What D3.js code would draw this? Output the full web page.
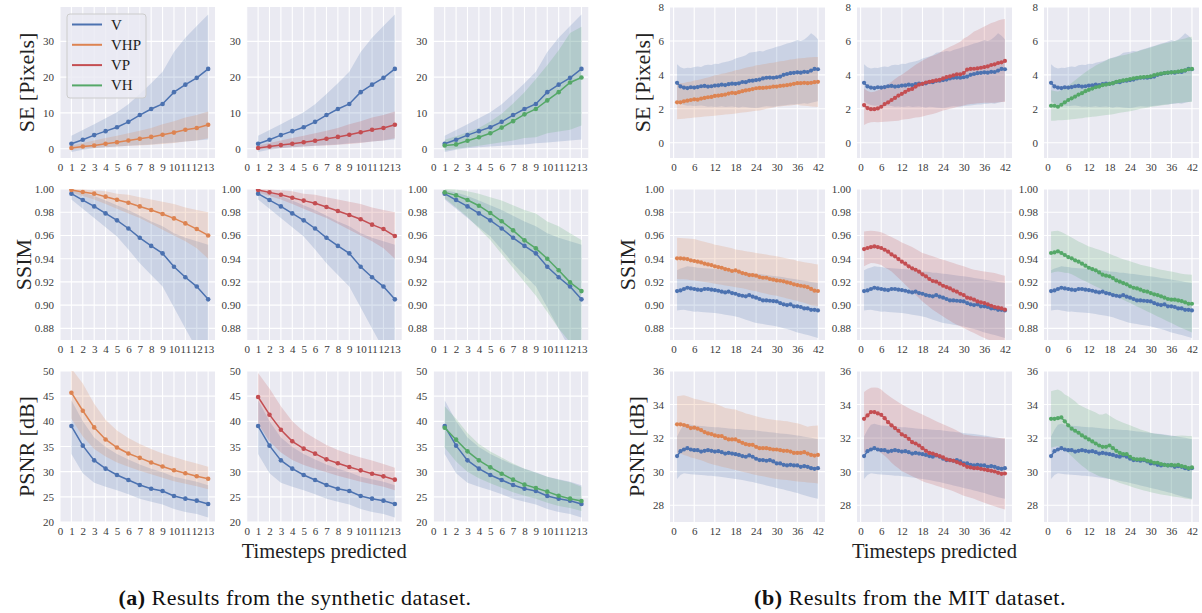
<!DOCTYPE html>
<html><head><meta charset="utf-8">
<script src="https://cdn.jsdelivr.net/npm/d3@7"></script>
<style>body{margin:0;background:#fff}svg{display:block}</style>
</head><body><svg id="c" width="1202" height="613"></svg>
<script>
// ---------------- DATA ----------------
const seriesNames = ["V", "VHP", "VP", "VH"];
const synthSteps = [1,2,3,4,5,6,7,8,9,10,11,12,13];
const mitSteps = [1,2,3,4,5,6,7,8,9,10,11,12,13,14,15,16,17,18,19,20,21,22,23,24,25,26,27,28,29,30,31,32,33,34,35,36,37,38,39,40,41,42];
const synthXTicks = [0,1,2,3,4,5,6,7,8,9,10,11,12,13];
const mitXTicks = [0,6,12,18,24,30,36,42];
const seYTicksSynth = [0,10,20,30];
const ssimYTicks = [0.88,0.90,0.92,0.94,0.96,0.98,1.00];
const psnrYTicksSynth = [20,25,30,35,40,45,50];
const seYTicksMIT = [0,2,4,6,8];
const psnrYTicksMIT = [28,30,32,34,36];
const metricLabels = ["SE [Pixels]", "SSIM", "PSNR [dB]"];

// Synthetic — SE
const sSE_V    = [1.4,2.5,3.8,4.9,6.0,7.5,9.4,11.1,12.5,15.8,17.9,19.8,22.3];
const sSE_V_hi = [3.6,5.2,6.8,8.5,10.2,12.4,15.3,18.3,21.5,27.0,31.0,34.3,37.5];
const sSE_V_lo = [-0.9,-0.3,0.1,0.4,0.6,0.8,1.0,1.2,1.5,1.7,2.0,2.3,2.6];
const sSE_VHP    = [0.2,0.6,0.9,1.4,1.8,2.3,2.8,3.3,3.9,4.5,5.3,5.8,6.7];
const sSE_VHP_hi = [0.9,1.6,2.3,3.0,3.6,4.3,5.0,5.8,6.8,7.7,8.7,9.4,10.4];
const sSE_VHP_lo = [-0.3,0.0,0.2,0.4,0.6,0.8,0.9,1.1,1.3,1.6,2.0,2.3,2.9];
const sSE_VP    = [0.2,0.6,1.0,1.4,1.8,2.2,2.8,3.3,3.9,4.6,5.3,5.8,6.7];
const sSE_VP_hi = [0.9,1.6,2.3,3.0,3.6,4.3,5.0,5.8,6.8,7.7,8.7,9.4,10.4];
const sSE_VP_lo = [-0.3,0.0,0.2,0.4,0.6,0.8,0.9,1.1,1.3,1.6,2.0,2.3,2.9];
const sSE_VH    = [0.9,1.2,2.2,3.2,4.3,5.9,7.7,9.6,11.1,13.5,15.8,18.5,19.9];
const sSE_VH_hi = [2.5,3.5,4.6,5.8,7.6,9.8,12.6,15.8,19.5,23.3,27.5,32.3,34.1];
const sSE_VH_lo = [-0.5,-0.1,0.4,0.8,1.3,1.8,2.3,3.0,3.2,4.3,4.8,5.3,6.5];

// Synthetic — SSIM
const sSSIM_V    = [0.996,0.9905,0.985,0.979,0.973,0.966,0.958,0.951,0.9446,0.933,0.924,0.916,0.905];
const sSSIM_V_hi = [0.999,0.997,0.994,0.990,0.986,0.982,0.977,0.972,0.968,0.962,0.958,0.955,0.952];
const sSSIM_V_lo = [0.991,0.983,0.975,0.967,0.959,0.948,0.936,0.926,0.916,0.898,0.880,0.862,0.850];
const sSSIM_VHP    = [0.9991,0.9974,0.996,0.9934,0.9908,0.9882,0.985,0.9819,0.9785,0.9747,0.9704,0.9655,0.960];
const sSSIM_VHP_hi = [1.0,0.9995,0.999,0.998,0.996,0.995,0.993,0.991,0.989,0.987,0.984,0.982,0.980];
const sSSIM_VHP_lo = [0.997,0.994,0.991,0.987,0.983,0.979,0.975,0.970,0.965,0.960,0.955,0.949,0.940];
const sSSIM_VP    = [0.9991,0.9971,0.9951,0.9925,0.9900,0.9877,0.9845,0.981,0.9776,0.9739,0.9693,0.9655,0.9595];
const sSSIM_VP_hi = [1.0,0.9995,0.999,0.998,0.996,0.995,0.993,0.991,0.989,0.987,0.984,0.982,0.980];
const sSSIM_VP_lo = [0.997,0.994,0.991,0.987,0.983,0.979,0.975,0.970,0.965,0.960,0.955,0.949,0.940];
const sSSIM_VH    = [0.9971,0.9945,0.9905,0.9856,0.9793,0.9722,0.9644,0.9558,0.9489,0.940,0.930,0.9196,0.9121];
const sSSIM_VH_hi = [1.0,0.9995,0.998,0.996,0.993,0.990,0.986,0.982,0.979,0.972,0.968,0.962,0.956];
const sSSIM_VH_lo = [0.992,0.984,0.976,0.966,0.956,0.944,0.932,0.920,0.908,0.894,0.880,0.868,0.858];

// Synthetic — PSNR
const sPSNR_V    = [39.07,35.17,32.25,30.6,29.34,28.34,27.35,26.62,26.16,25.17,24.64,24.24,23.58];
const sPSNR_V_hi = [44.2,40.0,36.8,34.9,33.5,32.4,31.4,30.6,29.9,29.0,28.5,28.0,27.3];
const sPSNR_V_lo = [33.5,29.7,27.8,27.0,26.3,25.5,24.6,24.0,23.5,22.6,22.0,21.6,20.9];
const sPSNR_VHP    = [45.69,42.1,38.79,36.4,34.8,33.61,32.75,31.82,31.02,30.29,29.7,29.1,28.6];
const sPSNR_VHP_hi = [50.5,47.5,43.5,40.3,38.2,36.7,35.5,34.5,33.6,32.9,32.2,31.6,31.0];
const sPSNR_VHP_lo = [40.5,37.0,34.5,33.0,31.8,31.0,30.2,29.5,28.8,28.1,27.6,27.1,26.5];
const sPSNR_VP    = [44.83,41.32,38.34,36.03,34.57,33.58,32.45,31.66,30.93,30.26,29.6,29.07,28.41];
const sPSNR_VP_hi = [49.6,46.5,43.0,40.0,38.0,36.6,35.3,34.3,33.5,32.8,32.2,31.5,30.8];
const sPSNR_VP_lo = [39.5,36.0,33.8,32.3,31.3,30.6,29.9,29.2,28.6,28.0,27.5,27.0,26.3];
const sPSNR_VH    = [38.74,36.36,34.04,32.25,30.86,29.6,28.41,27.42,26.75,26.03,25.23,24.64,24.17];
const sPSNR_VH_hi = [43.0,40.5,37.7,35.5,34.0,32.8,31.6,30.6,29.8,29.0,28.4,27.9,27.0];
const sPSNR_VH_lo = [34.8,32.0,30.0,28.7,27.7,26.8,25.9,25.2,24.6,23.8,23.2,22.8,22.2];

// MIT — SE
const mSE_V = [3.53,3.32,3.25,3.22,3.27,3.25,3.28,3.33,3.35,3.31,3.33,3.37,3.38,3.42,3.40,3.45,3.48,3.47,3.50,3.58,3.57,3.65,3.66,3.69,3.72,3.79,3.83,3.84,3.83,3.86,3.90,4.00,4.05,4.10,4.12,4.15,4.13,4.18,4.17,4.25,4.35,4.33];
const mSE_V_hi = [4.62,4.45,4.38,4.42,4.40,4.46,4.50,4.47,4.56,4.60,4.58,4.66,4.64,4.72,4.76,4.80,4.86,4.96,5.02,5.08,5.16,5.30,5.33,5.36,5.40,5.38,5.46,5.52,5.58,5.65,5.70,5.78,5.85,5.90,5.96,6.05,6.00,6.08,6.25,6.45,6.30,6.10];
const mSE_V_lo = [2.45,2.30,2.22,2.18,2.20,2.15,2.18,2.20,2.16,2.12,2.14,2.10,2.12,2.15,2.10,2.12,2.14,2.10,2.08,2.12,2.10,2.08,2.06,2.05,2.08,2.12,2.15,2.14,2.12,2.15,2.18,2.20,2.22,2.26,2.25,2.28,2.30,2.32,2.30,2.35,2.40,2.45];
const mSE_VHP = [2.38,2.38,2.44,2.48,2.52,2.56,2.54,2.60,2.64,2.68,2.70,2.76,2.78,2.80,2.84,2.90,2.94,2.92,2.98,3.04,3.08,3.12,3.16,3.21,3.23,3.23,3.25,3.27,3.31,3.31,3.35,3.37,3.39,3.43,3.47,3.51,3.51,3.53,3.51,3.53,3.57,3.59];
const mSE_VHP_hi = [3.47,3.50,3.52,3.58,3.60,3.67,3.70,3.74,3.80,3.84,3.90,3.97,4.00,4.06,4.10,4.15,4.20,4.27,4.30,4.36,4.42,4.47,4.50,4.56,4.58,4.62,4.66,4.70,4.72,4.76,4.80,4.82,4.86,4.90,4.92,4.96,4.98,5.00,5.02,5.04,5.05,5.06];
const mSE_VHP_lo = [1.39,1.40,1.42,1.44,1.46,1.49,1.50,1.52,1.55,1.56,1.58,1.59,1.62,1.64,1.66,1.68,1.70,1.73,1.75,1.78,1.80,1.83,1.85,1.88,1.90,1.95,2.00,2.03,2.08,2.12,2.14,2.16,2.18,2.20,2.22,2.24,2.20,2.18,2.16,2.14,2.12,2.10];
const mSE_VP = [2.22,2.04,1.98,1.98,2.02,2.12,2.28,2.38,2.52,2.64,2.78,2.88,3.00,3.12,3.17,3.31,3.43,3.47,3.55,3.59,3.63,3.67,3.71,3.79,3.87,3.91,3.97,4.03,4.03,4.11,4.31,4.35,4.36,4.38,4.42,4.46,4.50,4.58,4.62,4.70,4.74,4.82];
const mSE_VP_hi = [3.20,3.05,2.98,3.00,3.08,3.18,3.30,3.45,3.60,3.75,3.90,4.00,4.15,4.30,4.45,4.60,4.72,4.85,4.95,5.05,5.12,5.20,5.30,5.45,5.55,5.65,5.75,5.85,5.95,6.15,6.25,6.40,6.55,6.65,6.75,6.85,6.95,7.05,7.12,7.20,7.26,7.30];
const mSE_VP_lo = [1.05,1.15,1.20,1.22,1.20,1.22,1.24,1.25,1.26,1.28,1.30,1.35,1.38,1.40,1.45,1.48,1.50,1.55,1.60,1.65,1.70,1.75,1.82,1.90,1.95,2.00,2.05,2.10,2.15,2.20,2.25,2.28,2.30,2.32,2.34,2.35,2.36,2.35,2.36,2.38,2.40,2.40];
const mSE_VH = [2.18,2.18,2.12,2.24,2.38,2.52,2.62,2.72,2.84,2.92,3.04,3.12,3.19,3.27,3.31,3.39,3.43,3.47,3.51,3.59,3.63,3.67,3.71,3.75,3.79,3.83,3.85,3.87,3.89,3.91,3.99,4.03,4.07,4.11,4.13,4.15,4.17,4.19,4.23,4.27,4.33,4.35];
const mSE_VH_hi = [3.10,3.05,3.02,3.10,3.22,3.37,3.52,3.68,3.84,4.00,4.15,4.30,4.42,4.55,4.65,4.75,4.85,4.95,5.00,5.06,5.12,5.16,5.20,5.26,5.32,5.38,5.44,5.50,5.56,5.62,5.68,5.74,5.80,5.86,5.90,5.95,6.00,6.05,6.10,6.15,6.22,6.25];
const mSE_VH_lo = [1.30,1.30,1.32,1.33,1.34,1.35,1.38,1.40,1.43,1.45,1.48,1.50,1.53,1.55,1.58,1.60,1.63,1.65,1.68,1.72,1.76,1.80,1.83,1.86,1.90,1.95,2.00,2.03,2.06,2.10,2.13,2.16,2.20,2.23,2.26,2.30,2.32,2.34,2.36,2.38,2.40,2.40];

// MIT — SSIM
const mSSIM_V = [0.9121,0.9127,0.9139,0.9150,0.9144,0.9139,0.9133,0.9130,0.9139,0.9139,0.9133,0.9130,0.9124,0.9116,0.9110,0.9116,0.9104,0.9098,0.9087,0.9081,0.9076,0.9087,0.9073,0.9064,0.9053,0.9041,0.9041,0.9038,0.9035,0.9032,0.9018,0.9007,0.9001,0.9007,0.8990,0.8990,0.8984,0.8972,0.8972,0.8960,0.8960,0.8955];
const mSSIM_V_hi = [0.9300,0.9315,0.9325,0.9334,0.9330,0.9328,0.9322,0.9320,0.9318,0.9316,0.9314,0.9311,0.9310,0.9306,0.9302,0.9300,0.9296,0.9290,0.9288,0.9285,0.9280,0.9278,0.9274,0.9270,0.9268,0.9264,0.9260,0.9256,0.9252,0.9248,0.9244,0.9240,0.9234,0.9230,0.9225,0.9220,0.9215,0.9210,0.9205,0.9200,0.9195,0.9190];
const mSSIM_V_lo = [0.8955,0.8958,0.8960,0.8955,0.8950,0.8943,0.8945,0.8940,0.8938,0.8936,0.8934,0.8932,0.8928,0.8924,0.8918,0.8914,0.8908,0.8903,0.8895,0.8885,0.8875,0.8866,0.8856,0.8846,0.8842,0.8838,0.8832,0.8828,0.8822,0.8817,0.8810,0.8802,0.8794,0.8786,0.8776,0.8765,0.8758,0.8750,0.8742,0.8734,0.8725,0.8717];
const mSSIM_VHP = [0.9403,0.9403,0.9400,0.9397,0.9386,0.9380,0.9374,0.9368,0.9357,0.9351,0.9345,0.9334,0.9328,0.9322,0.9311,0.9305,0.9294,0.9300,0.9288,0.9276,0.9270,0.9259,0.9259,0.9254,0.9242,0.9236,0.9236,0.9225,0.9219,0.9213,0.9210,0.9205,0.9196,0.9190,0.9179,0.9173,0.9167,0.9162,0.9155,0.9140,0.9125,0.9122];
const mSSIM_VHP_hi = [0.9580,0.9578,0.9576,0.9574,0.9572,0.9570,0.9560,0.9552,0.9545,0.9538,0.9530,0.9520,0.9515,0.9510,0.9502,0.9496,0.9490,0.9480,0.9475,0.9470,0.9465,0.9460,0.9455,0.9450,0.9445,0.9440,0.9436,0.9430,0.9425,0.9420,0.9414,0.9408,0.9402,0.9396,0.9390,0.9380,0.9375,0.9370,0.9365,0.9360,0.9355,0.9350];
const mSSIM_VHP_lo = [0.9225,0.9224,0.9222,0.9220,0.9215,0.9212,0.9208,0.9204,0.9200,0.9195,0.9190,0.9185,0.9180,0.9175,0.9170,0.9165,0.9160,0.9155,0.9150,0.9145,0.9140,0.9130,0.9125,0.9120,0.9112,0.9105,0.9098,0.9090,0.9085,0.9080,0.9072,0.9065,0.9058,0.9050,0.9042,0.9035,0.9028,0.9020,0.9010,0.9000,0.8995,0.8990];
const mSSIM_VP = [0.9483,0.9492,0.9500,0.9506,0.9500,0.9492,0.9477,0.9460,0.9437,0.9420,0.9397,0.9374,0.9357,0.9334,0.9317,0.9305,0.9288,0.9265,0.9248,0.9225,0.9208,0.9202,0.9185,0.9167,0.9156,0.9144,0.9127,0.9116,0.9098,0.9087,0.9064,0.9058,0.9047,0.9032,0.9024,0.9018,0.9007,0.8995,0.8984,0.8978,0.8972,0.8961];
const mSSIM_VP_hi = [0.9635,0.9638,0.9640,0.9638,0.9635,0.9627,0.9615,0.9600,0.9587,0.9572,0.9556,0.9540,0.9527,0.9514,0.9500,0.9483,0.9466,0.9449,0.9440,0.9430,0.9420,0.9410,0.9400,0.9391,0.9382,0.9372,0.9363,0.9353,0.9344,0.9334,0.9324,0.9314,0.9305,0.9300,0.9295,0.9290,0.9285,0.9281,0.9276,0.9268,0.9260,0.9253];
const mSSIM_VP_lo = [0.9334,0.9350,0.9363,0.9360,0.9355,0.9345,0.9325,0.9310,0.9290,0.9262,0.9234,0.9205,0.9175,0.9147,0.9119,0.9090,0.9061,0.9032,0.9008,0.8984,0.8960,0.8941,0.8922,0.8903,0.8884,0.8865,0.8846,0.8832,0.8818,0.8803,0.8788,0.8774,0.8760,0.8746,0.8731,0.8717,0.8705,0.8693,0.8680,0.8668,0.8656,0.8645];
const mSSIM_VH = [0.9449,0.9454,0.9463,0.9449,0.9432,0.9414,0.9403,0.9386,0.9374,0.9357,0.9340,0.9322,0.9311,0.9300,0.9282,0.9262,0.9254,0.9248,0.9233,0.9213,0.9202,0.9190,0.9179,0.9162,0.9150,0.9144,0.9133,0.9121,0.9116,0.9104,0.9093,0.9087,0.9076,0.9064,0.9053,0.9047,0.9047,0.9041,0.9035,0.9024,0.9012,0.9012];
const mSSIM_VH_hi = [0.9635,0.9638,0.9640,0.9630,0.9615,0.9598,0.9582,0.9565,0.9549,0.9535,0.9520,0.9506,0.9496,0.9486,0.9477,0.9466,0.9455,0.9443,0.9430,0.9418,0.9406,0.9396,0.9386,0.9377,0.9367,0.9358,0.9348,0.9341,0.9335,0.9328,0.9320,0.9312,0.9305,0.9300,0.9295,0.9290,0.9283,0.9276,0.9270,0.9267,0.9264,0.9262];
const mSSIM_VH_lo = [0.9276,0.9285,0.9290,0.9285,0.9280,0.9276,0.9265,0.9250,0.9233,0.9219,0.9205,0.9190,0.9176,0.9161,0.9147,0.9133,0.9118,0.9104,0.9090,0.9075,0.9061,0.9047,0.9032,0.9018,0.9004,0.8989,0.8975,0.8961,0.8946,0.8932,0.8918,0.8903,0.8889,0.8875,0.8860,0.8846,0.8832,0.8817,0.8803,0.8790,0.8778,0.8765];

// MIT — PSNR
const mPSNR_V = [30.93,31.22,31.32,31.40,31.32,31.28,31.28,31.20,31.24,31.28,31.24,31.20,31.22,31.16,31.08,31.12,31.08,31.04,31.00,30.93,30.89,30.97,30.89,30.77,30.69,30.69,30.65,30.69,30.61,30.49,30.49,30.41,30.37,30.41,30.37,30.37,30.29,30.33,30.29,30.21,30.17,30.21];
const mPSNR_V_hi = [32.10,32.50,32.80,32.85,32.80,32.75,32.74,32.72,32.70,32.68,32.66,32.65,32.64,32.62,32.60,32.58,32.56,32.55,32.54,32.52,32.50,32.49,32.48,32.45,32.43,32.40,32.38,32.35,32.33,32.30,32.28,32.26,32.24,32.22,32.18,32.15,32.12,32.08,32.05,32.02,31.98,31.95];
const mPSNR_V_lo = [29.57,29.80,29.90,29.88,29.85,29.83,29.82,29.80,29.78,29.76,29.75,29.73,29.71,29.68,29.65,29.62,29.60,29.57,29.54,29.50,29.46,29.42,29.38,29.33,29.28,29.23,29.18,29.13,29.08,29.03,28.98,28.93,28.88,28.83,28.78,28.73,28.66,28.60,28.54,28.48,28.43,28.38];
const mPSNR_VHP = [32.82,32.82,32.78,32.72,32.60,32.62,32.56,32.48,32.36,32.28,32.24,32.16,32.12,32.12,32.00,31.92,31.92,31.92,31.82,31.72,31.64,31.60,31.60,31.48,31.40,31.40,31.40,31.36,31.32,31.32,31.28,31.24,31.24,31.20,31.12,31.12,31.12,31.16,31.08,31.00,30.96,31.00];
const mPSNR_VHP_hi = [34.50,34.52,34.55,34.50,34.42,34.35,34.30,34.25,34.20,34.15,34.10,34.07,33.98,33.90,33.80,33.76,33.72,33.70,33.62,33.55,33.47,33.42,33.36,33.30,33.25,33.20,33.15,33.12,33.10,33.07,33.05,33.02,33.00,32.96,32.92,32.88,32.82,32.75,32.68,32.72,32.74,32.75];
const mPSNR_VHP_lo = [31.10,31.08,31.00,30.94,30.85,30.80,30.74,30.68,30.60,30.52,30.45,30.40,30.35,30.30,30.25,30.20,30.15,30.10,30.05,30.00,29.95,29.90,29.85,29.80,29.76,29.72,29.68,29.64,29.60,29.56,29.54,29.52,29.50,29.48,29.45,29.42,29.40,29.38,29.36,29.34,29.32,29.30];
const mPSNR_VP = [33.15,33.35,33.55,33.55,33.47,33.39,33.19,32.95,32.76,32.60,32.44,32.22,32.12,31.96,31.76,31.68,31.56,31.40,31.24,31.12,31.08,31.00,30.93,30.85,30.73,30.69,30.65,30.57,30.49,30.41,30.29,30.25,30.21,30.21,30.17,30.13,30.09,30.05,30.01,29.93,29.87,29.89];
const mPSNR_VP_hi = [34.75,34.90,35.00,35.02,35.00,34.90,34.70,34.55,34.40,34.27,34.13,34.00,33.90,33.78,33.67,33.58,33.50,33.41,33.31,33.21,33.11,33.01,32.92,32.82,32.73,32.65,32.56,32.45,32.33,32.22,32.18,32.15,32.12,32.11,32.10,32.08,32.06,32.04,32.02,32.01,32.00,32.00];
const mPSNR_VP_lo = [31.10,31.25,31.42,31.35,31.25,31.10,30.95,30.75,30.53,30.36,30.20,30.03,29.93,29.83,29.73,29.63,29.53,29.43,29.36,29.30,29.23,29.16,29.10,29.03,28.96,28.90,28.83,28.74,28.66,28.57,28.51,28.44,28.38,28.30,28.22,28.14,28.07,28.00,27.94,27.87,27.80,27.74];
const mPSNR_VH = [33.15,33.15,33.19,33.23,33.00,32.76,32.56,32.44,32.32,32.16,32.04,31.92,31.80,31.68,31.56,31.48,31.48,31.56,31.40,31.24,31.12,31.04,31.04,30.89,30.77,30.73,30.73,30.73,30.65,30.61,30.53,30.53,30.45,30.41,30.37,30.41,30.37,30.41,30.33,30.29,30.21,30.25];
const mPSNR_VH_hi = [34.80,34.85,34.90,34.80,34.60,34.50,34.35,34.20,34.00,33.90,33.80,33.71,33.62,33.52,33.41,33.40,33.48,33.35,33.22,33.10,33.00,32.92,32.84,32.76,32.68,32.60,32.52,32.46,32.40,32.32,32.28,32.25,32.22,32.18,32.15,32.12,32.12,32.14,32.16,32.14,32.13,32.12];
const mPSNR_VH_lo = [31.42,31.48,31.52,31.40,31.25,31.12,30.92,30.72,30.53,30.36,30.20,30.03,29.93,29.83,29.73,29.68,29.62,29.57,29.49,29.41,29.33,29.26,29.20,29.13,29.06,29.00,28.93,28.88,28.83,28.78,28.73,28.69,28.64,28.61,28.58,28.54,28.51,28.48,28.44,28.40,28.37,28.34];

// ---------------- STYLE / LAYOUT ----------------
const COLORS = {V:"#4C72B0", VHP:"#DD8452", VP:"#C44E52", VH:"#55A868"};
const FONT = "'Liberation Serif','Times New Roman',serif";
const BG = "#EAEAF2";
const PW = 155, PH = 151;
const leftCols = [60, 246.7, 433.3];
const rightCols = [670, 857, 1044];
const rows = [7, 189, 371];

const svg = d3.select("#c");
const defs = svg.append("defs");
let clipN = 0;

function s(name, mean, lo, hi){ return {name, mean, lo, hi, color: COLORS[name]}; }

function drawSub(o){
  const g = svg.append("g");
  const x = d3.scaleLinear().domain(o.xd).range([o.x0, o.x0 + PW]);
  const y = d3.scaleLinear().domain(o.yd).range([o.y0 + PH, o.y0]);
  g.append("rect").attr("x", o.x0).attr("y", o.y0).attr("width", PW).attr("height", PH).attr("fill", BG);
  g.append("g").selectAll("line").data(o.xt).join("line")
    .attr("x1", d => x(d)).attr("x2", d => x(d)).attr("y1", o.y0).attr("y2", o.y0 + PH)
    .attr("stroke", "#fff").attr("stroke-width", 1.1);
  g.append("g").selectAll("line").data(o.yt).join("line")
    .attr("y1", d => y(d)).attr("y2", d => y(d)).attr("x1", o.x0).attr("x2", o.x0 + PW)
    .attr("stroke", "#fff").attr("stroke-width", 1.1);
  const cid = "clip" + (clipN++);
  defs.append("clipPath").attr("id", cid).append("rect")
    .attr("x", o.x0).attr("y", o.y0).attr("width", PW).attr("height", PH);
  const cg = g.append("g").attr("clip-path", `url(#${cid})`);
  const area = d3.area().x(d => x(d.t)).y0(d => y(d.lo)).y1(d => y(d.hi));
  const line = d3.line().x(d => x(d.t)).y(d => y(d.m));
  const rowsOf = ser => o.steps.map((t, i) => ({t, m: ser.mean[i], lo: ser.lo[i], hi: ser.hi[i]}));
  o.series.forEach(ser => {
    cg.append("path").datum(rowsOf(ser)).attr("d", area)
      .attr("fill", ser.color).attr("fill-opacity", 0.2).attr("stroke", "none");
  });
  o.series.forEach(ser => {
    const d = rowsOf(ser);
    cg.append("path").datum(d).attr("d", line).attr("fill", "none")
      .attr("stroke", ser.color).attr("stroke-width", 1.5);
    cg.append("g").selectAll("circle").data(d).join("circle")
      .attr("cx", p => x(p.t)).attr("cy", p => y(p.m)).attr("r", o.mr)
      .attr("fill", ser.color);
  });
  const ax = g.append("g").attr("transform", `translate(0,${o.y0 + PH})`)
    .call(d3.axisBottom(x).tickValues(o.xt).tickSize(0).tickPadding(5));
  const ay = g.append("g").attr("transform", `translate(${o.x0},0)`)
    .call(d3.axisLeft(y).tickValues(o.yt).tickSize(0).tickPadding(6).tickFormat(o.yf));
  [ax, ay].forEach(a => {
    a.select(".domain").remove();
    a.selectAll("text").attr("font-family", FONT).attr("font-size", 11).attr("fill", "#3a3a3a");
  });
  return {x, y};
}

const synthMetrics = [
  {yd:[-2.6, 39.6], yt: seYTicksSynth, yf: d3.format("d"),
   V: s("V", sSE_V, sSE_V_lo, sSE_V_hi),
   others: [s("VHP", sSE_VHP, sSE_VHP_lo, sSE_VHP_hi), s("VP", sSE_VP, sSE_VP_lo, sSE_VP_hi), s("VH", sSE_VH, sSE_VH_lo, sSE_VH_hi)]},
  {yd:[0.87, 1.0], yt: ssimYTicks, yf: d3.format(".2f"),
   V: s("V", sSSIM_V, sSSIM_V_lo, sSSIM_V_hi),
   others: [s("VHP", sSSIM_VHP, sSSIM_VHP_lo, sSSIM_VHP_hi), s("VP", sSSIM_VP, sSSIM_VP_lo, sSSIM_VP_hi), s("VH", sSSIM_VH, sSSIM_VH_lo, sSSIM_VH_hi)]},
  {yd:[20, 50], yt: psnrYTicksSynth, yf: d3.format("d"),
   V: s("V", sPSNR_V, sPSNR_V_lo, sPSNR_V_hi),
   others: [s("VHP", sPSNR_VHP, sPSNR_VHP_lo, sPSNR_VHP_hi), s("VP", sPSNR_VP, sPSNR_VP_lo, sPSNR_VP_hi), s("VH", sPSNR_VH, sPSNR_VH_lo, sPSNR_VH_hi)]}
];
const mitMetrics = [
  {yd:[-0.9, 8], yt: seYTicksMIT, yf: d3.format("d"),
   V: s("V", mSE_V, mSE_V_lo, mSE_V_hi),
   others: [s("VHP", mSE_VHP, mSE_VHP_lo, mSE_VHP_hi), s("VP", mSE_VP, mSE_VP_lo, mSE_VP_hi), s("VH", mSE_VH, mSE_VH_lo, mSE_VH_hi)]},
  {yd:[0.87, 1.0], yt: ssimYTicks, yf: d3.format(".2f"),
   V: s("V", mSSIM_V, mSSIM_V_lo, mSSIM_V_hi),
   others: [s("VHP", mSSIM_VHP, mSSIM_VHP_lo, mSSIM_VHP_hi), s("VP", mSSIM_VP, mSSIM_VP_lo, mSSIM_VP_hi), s("VH", mSSIM_VH, mSSIM_VH_lo, mSSIM_VH_hi)]},
  {yd:[27.0, 36], yt: psnrYTicksMIT, yf: d3.format("d"),
   V: s("V", mPSNR_V, mPSNR_V_lo, mPSNR_V_hi),
   others: [s("VHP", mPSNR_VHP, mPSNR_VHP_lo, mPSNR_VHP_hi), s("VP", mPSNR_VP, mPSNR_VP_lo, mPSNR_VP_hi), s("VH", mPSNR_VH, mPSNR_VH_lo, mPSNR_VH_hi)]}
];

synthMetrics.forEach((m, r) => {
  m.others.forEach((other, c) => {
    drawSub({x0: leftCols[c], y0: rows[r], xd:[0, 13.6], xt: synthXTicks, yd: m.yd, yt: m.yt, yf: m.yf,
      steps: synthSteps, series: [m.V, other], mr: 2.3});
  });
});
mitMetrics.forEach((m, r) => {
  m.others.forEach((other, c) => {
    drawSub({x0: rightCols[c], y0: rows[r], xd:[-1.05, 44.05], xt: mitXTicks, yd: m.yd, yt: m.yt, yf: m.yf,
      steps: mitSteps, series: [m.V, other], mr: 2.1});
  });
});

// y labels
const leftLabelX = [26, 23, 26];
const rightLabelX = [642, 627, 636];
metricLabels.forEach((lab, r) => {
  const cy = rows[r] + PH / 2;
  [leftLabelX[r], rightLabelX[r]].forEach(lx => {
    svg.append("text").attr("transform", `translate(${lx},${cy}) rotate(-90)`)
      .attr("text-anchor", "middle").attr("dominant-baseline", "central")
      .attr("font-family", FONT).attr("font-size", 22).attr("fill", "#222").text(lab);
  });
});

// x labels
[leftCols[1] + PW / 2, rightCols[1] + PW / 2].forEach(cx => {
  svg.append("text").attr("x", cx).attr("y", 558).attr("text-anchor", "middle")
    .attr("font-family", FONT).attr("font-size", 20.5).attr("fill", "#222").text("Timesteps predicted");
});

// legend (first synthetic subplot)
const lg = svg.append("g");
lg.append("rect").attr("x", 67).attr("y", 14).attr("width", 79).attr("height", 84).attr("rx", 3)
  .attr("fill", BG).attr("fill-opacity", 0.8).attr("stroke", "#cccccc").attr("stroke-width", 1);
seriesNames.forEach((n, i) => {
  const yy = 24.5 + i * 20.3;
  lg.append("line").attr("x1", 72).attr("x2", 102).attr("y1", yy).attr("y2", yy)
    .attr("stroke", COLORS[n]).attr("stroke-width", 2);
  lg.append("text").attr("x", 111).attr("y", yy).attr("dominant-baseline", "central")
    .attr("font-family", FONT).attr("font-size", 15).attr("fill", "#222").text(n);
});

// captions
const captions = [{cx: 295, tag: "(a)", text: " Results from the synthetic dataset."},
                  {cx: 910, tag: "(b)", text: " Results from the MIT dataset."}];
captions.forEach(c => {
  const t = svg.append("text").attr("x", c.cx).attr("y", 605).attr("text-anchor", "middle")
    .attr("font-family", FONT).attr("font-size", 22).attr("letter-spacing", 0.5).attr("fill", "#111");
  t.append("tspan").attr("font-weight", "bold").text(c.tag);
  t.append("tspan").text(c.text);
});
</script></body></html>
